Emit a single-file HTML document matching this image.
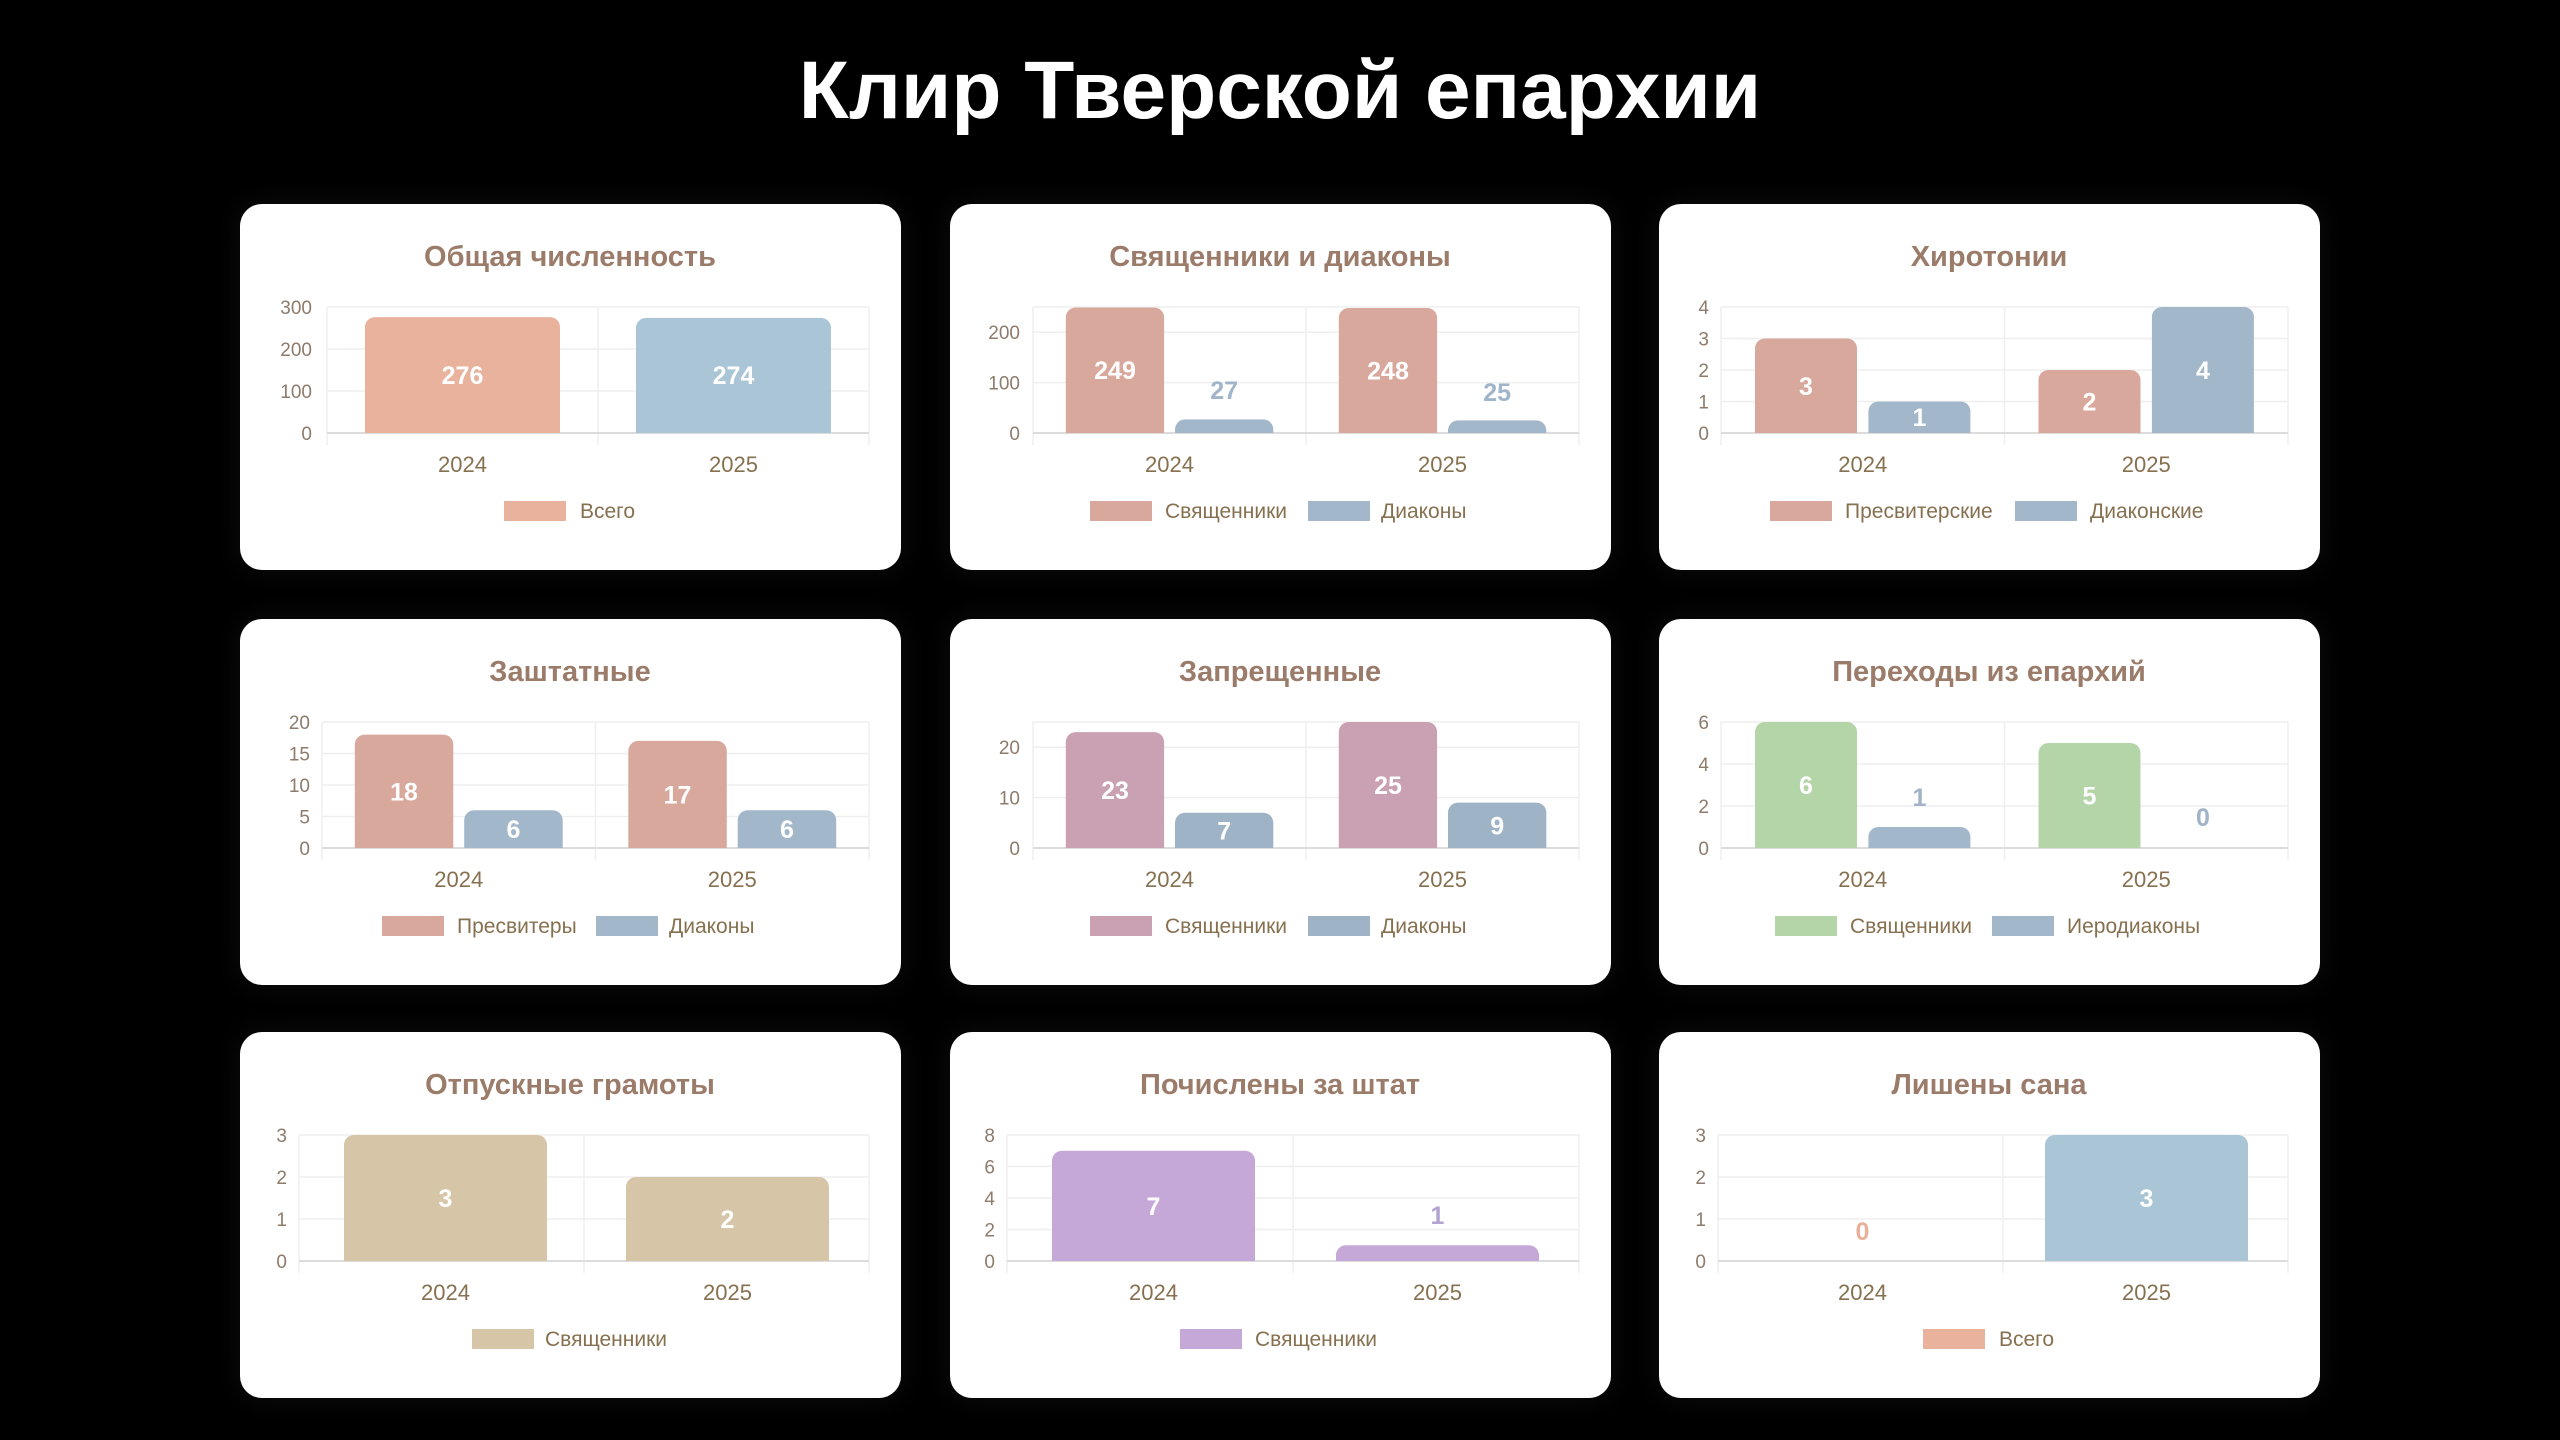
<!DOCTYPE html>
<html><head><meta charset="utf-8"><style>
html,body{margin:0;padding:0;background:#000;width:2560px;height:1440px;overflow:hidden;font-family:"Liberation Sans","DejaVu Sans",sans-serif}
h1{position:absolute;left:0;top:41px;width:2560px;text-align:center;margin:0;color:#fff;font-size:82px;font-weight:bold;line-height:100px}
.card{position:absolute;width:661px;height:366px;background:#fff;border-radius:22px;box-shadow:0 0 30px rgba(255,255,255,0.06)}
.card svg{position:absolute;left:0;top:0}
svg text{font-family:"Liberation Sans","DejaVu Sans",sans-serif}
.t{font-size:29px;font-weight:bold;fill:#9b7b69}
.y{font-size:19px;fill:#8d7b6c}
.x{font-size:22px;fill:#86704f}
.l{font-size:21px;fill:#86704f}
.v{font-size:25px;font-weight:bold}
.g{stroke:#efefef;stroke-width:1.5}
.a{stroke:#dcdcdc;stroke-width:2}
</style></head><body>
<h1>Клир Тверской епархии</h1>
<svg width="0" height="0" style="position:absolute"><defs><clipPath id="c"><rect x="0" y="0" width="661" height="229"/></clipPath></defs></svg>

<div class="card" style="left:240px;top:204px"><svg width="661" height="366">
<text class="t" x="330" y="62" text-anchor="middle">Общая численность</text>
<line class="g" x1="87" y1="103" x2="629" y2="103"/><line class="g" x1="87" y1="145" x2="629" y2="145"/><line class="g" x1="87" y1="187" x2="629" y2="187"/>
<line class="g" x1="87" y1="103" x2="87" y2="241"/><line class="g" x1="358" y1="103" x2="358" y2="241"/><line class="g" x1="629" y1="103" x2="629" y2="241"/>
<line class="a" x1="87" y1="229" x2="629" y2="229"/>
<g class="y" text-anchor="end"><text x="72" y="110">300</text><text x="72" y="152">200</text><text x="72" y="194">100</text><text x="72" y="236">0</text></g>
<g clip-path="url(#c)"><rect x="125" y="113.1" width="195" height="130" rx="10" fill="#e8b29d"/><rect x="396" y="113.9" width="195" height="130" rx="10" fill="#a9c5d6"/></g>
<g class="v" fill="#fff" text-anchor="middle"><text x="222.5" y="180">276</text><text x="493.5" y="180">274</text></g>
<g class="x" text-anchor="middle"><text x="222.5" y="268">2024</text><text x="493.5" y="268">2025</text></g>
<rect x="264" y="297" width="62" height="20" fill="#e8b29d"/><text class="l" x="340" y="314">Всего</text>
</svg></div>

<div class="card" style="left:950px;top:204px"><svg width="661" height="366">
<text class="t" x="330" y="62" text-anchor="middle">Священники и диаконы</text>
<line class="g" x1="83" y1="103" x2="629" y2="103"/><line class="g" x1="83" y1="128.2" x2="629" y2="128.2"/><line class="g" x1="83" y1="178.6" x2="629" y2="178.6"/>
<line class="g" x1="83" y1="103" x2="83" y2="241"/><line class="g" x1="356" y1="103" x2="356" y2="241"/><line class="g" x1="629" y1="103" x2="629" y2="241"/>
<line class="a" x1="83" y1="229" x2="629" y2="229"/>
<g class="y" text-anchor="end"><text x="70" y="135">200</text><text x="70" y="185.5">100</text><text x="70" y="236">0</text></g>
<g clip-path="url(#c)"><rect x="115.8" y="103.5" width="98.3" height="140" rx="10" fill="#d9a89d"/><rect x="225" y="215.4" width="98.3" height="30" rx="10" fill="#a3b7cb"/><rect x="388.8" y="104" width="98.3" height="140" rx="10" fill="#d9a89d"/><rect x="498" y="216.4" width="98.3" height="30" rx="10" fill="#a3b7cb"/></g>
<g class="v" text-anchor="middle"><text x="165" y="175" fill="#fff">249</text><text x="274.2" y="195" fill="#a0b5ca">27</text><text x="438" y="175.5" fill="#fff">248</text><text x="547.2" y="197" fill="#a0b5ca">25</text></g>
<g class="x" text-anchor="middle"><text x="219.5" y="268">2024</text><text x="492.5" y="268">2025</text></g>
<rect x="140" y="297" width="62" height="20" fill="#d9a89d"/><text class="l" x="215" y="314">Священники</text>
<rect x="358" y="297" width="62" height="20" fill="#a3b7cb"/><text class="l" x="431" y="314">Диаконы</text>
</svg></div>

<div class="card" style="left:1659px;top:204px"><svg width="661" height="366">
<text class="t" x="330" y="62" text-anchor="middle">Хиротонии</text>
<line class="g" x1="62" y1="103" x2="629" y2="103"/><line class="g" x1="62" y1="134.5" x2="629" y2="134.5"/><line class="g" x1="62" y1="166" x2="629" y2="166"/><line class="g" x1="62" y1="197.5" x2="629" y2="197.5"/>
<line class="g" x1="62" y1="103" x2="62" y2="241"/><line class="g" x1="345.5" y1="103" x2="345.5" y2="241"/><line class="g" x1="629" y1="103" x2="629" y2="241"/>
<line class="a" x1="62" y1="229" x2="629" y2="229"/>
<g class="y" text-anchor="end"><text x="50" y="110">4</text><text x="50" y="141.5">3</text><text x="50" y="173">2</text><text x="50" y="204.5">1</text><text x="50" y="236">0</text></g>
<g clip-path="url(#c)"><rect x="96" y="134.5" width="102" height="110" rx="10" fill="#d9a89d"/><rect x="209.4" y="197.5" width="102" height="50" rx="10" fill="#a3b7cb"/><rect x="379.5" y="166" width="102" height="80" rx="10" fill="#d9a89d"/><rect x="492.9" y="103" width="102" height="140" rx="10" fill="#a3b7cb"/></g>
<g class="v" fill="#fff" text-anchor="middle"><text x="147" y="191">3</text><text x="260.4" y="222">1</text><text x="430.5" y="206.5">2</text><text x="543.9" y="175">4</text></g>
<g class="x" text-anchor="middle"><text x="203.75" y="268">2024</text><text x="487.25" y="268">2025</text></g>
<rect x="111" y="297" width="62" height="20" fill="#d9a89d"/><text class="l" x="186" y="314">Пресвитерские</text>
<rect x="356" y="297" width="62" height="20" fill="#a3b7cb"/><text class="l" x="431" y="314">Диаконские</text>
</svg></div>

<div class="card" style="left:240px;top:619px"><svg width="661" height="366">
<text class="t" x="330" y="62" text-anchor="middle">Заштатные</text>
<line class="g" x1="82" y1="103" x2="629" y2="103"/><line class="g" x1="82" y1="134.5" x2="629" y2="134.5"/><line class="g" x1="82" y1="166" x2="629" y2="166"/><line class="g" x1="82" y1="197.5" x2="629" y2="197.5"/>
<line class="g" x1="82" y1="103" x2="82" y2="241"/><line class="g" x1="355.5" y1="103" x2="355.5" y2="241"/><line class="g" x1="629" y1="103" x2="629" y2="241"/>
<line class="a" x1="82" y1="229" x2="629" y2="229"/>
<g class="y" text-anchor="end"><text x="70" y="110">20</text><text x="70" y="141.5">15</text><text x="70" y="173">10</text><text x="70" y="204.5">5</text><text x="70" y="236">0</text></g>
<g clip-path="url(#c)"><rect x="114.8" y="115.6" width="98.5" height="130" rx="10" fill="#d9a89d"/><rect x="224.2" y="191.2" width="98.5" height="60" rx="10" fill="#a3b7cb"/><rect x="388.3" y="121.9" width="98.5" height="130" rx="10" fill="#d9a89d"/><rect x="497.7" y="191.2" width="98.5" height="60" rx="10" fill="#a3b7cb"/></g>
<g class="v" fill="#fff" text-anchor="middle"><text x="164" y="181.3">18</text><text x="273.5" y="219">6</text><text x="437.5" y="184.5">17</text><text x="547" y="219">6</text></g>
<g class="x" text-anchor="middle"><text x="218.75" y="268">2024</text><text x="492.25" y="268">2025</text></g>
<rect x="142" y="297" width="62" height="20" fill="#d9a89d"/><text class="l" x="217" y="314">Пресвитеры</text>
<rect x="356" y="297" width="62" height="20" fill="#a3b7cb"/><text class="l" x="429" y="314">Диаконы</text>
</svg></div>

<div class="card" style="left:950px;top:619px"><svg width="661" height="366">
<text class="t" x="330" y="62" text-anchor="middle">Запрещенные</text>
<line class="g" x1="83" y1="103" x2="629" y2="103"/><line class="g" x1="83" y1="128.2" x2="629" y2="128.2"/><line class="g" x1="83" y1="178.6" x2="629" y2="178.6"/>
<line class="g" x1="83" y1="103" x2="83" y2="241"/><line class="g" x1="356" y1="103" x2="356" y2="241"/><line class="g" x1="629" y1="103" x2="629" y2="241"/>
<line class="a" x1="83" y1="229" x2="629" y2="229"/>
<g class="y" text-anchor="end"><text x="70" y="135">20</text><text x="70" y="185.5">10</text><text x="70" y="236">0</text></g>
<g clip-path="url(#c)"><rect x="115.8" y="113.1" width="98.3" height="130" rx="10" fill="#c9a1b2"/><rect x="225" y="193.7" width="98.3" height="60" rx="10" fill="#9fb3c6"/><rect x="388.8" y="103" width="98.3" height="140" rx="10" fill="#c9a1b2"/><rect x="498" y="183.6" width="98.3" height="60" rx="10" fill="#9fb3c6"/></g>
<g class="v" fill="#fff" text-anchor="middle"><text x="165" y="180">23</text><text x="274.2" y="220.4">7</text><text x="438" y="175">25</text><text x="547.2" y="215.3">9</text></g>
<g class="x" text-anchor="middle"><text x="219.5" y="268">2024</text><text x="492.5" y="268">2025</text></g>
<rect x="140" y="297" width="62" height="20" fill="#c9a1b2"/><text class="l" x="215" y="314">Священники</text>
<rect x="358" y="297" width="62" height="20" fill="#9fb3c6"/><text class="l" x="431" y="314">Диаконы</text>
</svg></div>

<div class="card" style="left:1659px;top:619px"><svg width="661" height="366">
<text class="t" x="330" y="62" text-anchor="middle">Переходы из епархий</text>
<line class="g" x1="62" y1="103" x2="629" y2="103"/><line class="g" x1="62" y1="145" x2="629" y2="145"/><line class="g" x1="62" y1="187" x2="629" y2="187"/>
<line class="g" x1="62" y1="103" x2="62" y2="241"/><line class="g" x1="345.5" y1="103" x2="345.5" y2="241"/><line class="g" x1="629" y1="103" x2="629" y2="241"/>
<line class="a" x1="62" y1="229" x2="629" y2="229"/>
<g class="y" text-anchor="end"><text x="50" y="110">6</text><text x="50" y="152">4</text><text x="50" y="194">2</text><text x="50" y="236">0</text></g>
<g clip-path="url(#c)"><rect x="96" y="103" width="102" height="140" rx="10" fill="#b4d5a8"/><rect x="209.4" y="208" width="102" height="40" rx="10" fill="#a3b7cb"/><rect x="379.5" y="124" width="102" height="120" rx="10" fill="#b4d5a8"/></g>
<g class="v" text-anchor="middle"><text x="147" y="175" fill="#fff">6</text><text x="260.4" y="187" fill="#a0b3c8">1</text><text x="430.5" y="185.5" fill="#fff">5</text><text x="543.9" y="207" fill="#a0b3c8">0</text></g>
<g class="x" text-anchor="middle"><text x="203.75" y="268">2024</text><text x="487.25" y="268">2025</text></g>
<rect x="116" y="297" width="62" height="20" fill="#b4d5a8"/><text class="l" x="191" y="314">Священники</text>
<rect x="333" y="297" width="62" height="20" fill="#a3b7cb"/><text class="l" x="408" y="314">Иеродиаконы</text>
</svg></div>

<div class="card" style="left:240px;top:1032px"><svg width="661" height="366">
<text class="t" x="330" y="62" text-anchor="middle">Отпускные грамоты</text>
<line class="g" x1="59" y1="103" x2="629" y2="103"/><line class="g" x1="59" y1="145" x2="629" y2="145"/><line class="g" x1="59" y1="187" x2="629" y2="187"/>
<line class="g" x1="59" y1="103" x2="59" y2="241"/><line class="g" x1="344" y1="103" x2="344" y2="241"/><line class="g" x1="629" y1="103" x2="629" y2="241"/>
<line class="a" x1="59" y1="229" x2="629" y2="229"/>
<g class="y" text-anchor="end"><text x="47" y="110">3</text><text x="47" y="152">2</text><text x="47" y="194">1</text><text x="47" y="236">0</text></g>
<g clip-path="url(#c)"><rect x="104" y="103" width="203" height="140" rx="10" fill="#d6c5a6"/><rect x="386" y="145" width="203" height="100" rx="10" fill="#d6c5a6"/></g>
<g class="v" fill="#fff" text-anchor="middle"><text x="205.5" y="175">3</text><text x="487.5" y="196">2</text></g>
<g class="x" text-anchor="middle"><text x="205.5" y="268">2024</text><text x="487.5" y="268">2025</text></g>
<rect x="232" y="297" width="62" height="20" fill="#d6c5a6"/><text class="l" x="305" y="314">Священники</text>
</svg></div>

<div class="card" style="left:950px;top:1032px"><svg width="661" height="366">
<text class="t" x="330" y="62" text-anchor="middle">Почислены за штат</text>
<line class="g" x1="57" y1="103" x2="629" y2="103"/><line class="g" x1="57" y1="134.5" x2="629" y2="134.5"/><line class="g" x1="57" y1="166" x2="629" y2="166"/><line class="g" x1="57" y1="197.5" x2="629" y2="197.5"/>
<line class="g" x1="57" y1="103" x2="57" y2="241"/><line class="g" x1="343" y1="103" x2="343" y2="241"/><line class="g" x1="629" y1="103" x2="629" y2="241"/>
<line class="a" x1="57" y1="229" x2="629" y2="229"/>
<g class="y" text-anchor="end"><text x="45" y="110">8</text><text x="45" y="141.5">6</text><text x="45" y="173">4</text><text x="45" y="204.5">2</text><text x="45" y="236">0</text></g>
<g clip-path="url(#c)"><rect x="102" y="118.75" width="203" height="130" rx="10" fill="#c5a8d8"/><rect x="386" y="213.25" width="203" height="40" rx="10" fill="#c5a8d8"/></g>
<g class="v" text-anchor="middle"><text x="203.5" y="183" fill="#fff">7</text><text x="487.5" y="192" fill="#b3a3d3">1</text></g>
<g class="x" text-anchor="middle"><text x="203.5" y="268">2024</text><text x="487.5" y="268">2025</text></g>
<rect x="230" y="297" width="62" height="20" fill="#c5a8d8"/><text class="l" x="305" y="314">Священники</text>
</svg></div>

<div class="card" style="left:1659px;top:1032px"><svg width="661" height="366">
<text class="t" x="330" y="62" text-anchor="middle">Лишены сана</text>
<line class="g" x1="59" y1="103" x2="629" y2="103"/><line class="g" x1="59" y1="145" x2="629" y2="145"/><line class="g" x1="59" y1="187" x2="629" y2="187"/>
<line class="g" x1="59" y1="103" x2="59" y2="241"/><line class="g" x1="344" y1="103" x2="344" y2="241"/><line class="g" x1="629" y1="103" x2="629" y2="241"/>
<line class="a" x1="59" y1="229" x2="629" y2="229"/>
<g class="y" text-anchor="end"><text x="47" y="110">3</text><text x="47" y="152">2</text><text x="47" y="194">1</text><text x="47" y="236">0</text></g>
<g clip-path="url(#c)"><rect x="386" y="103" width="203" height="140" rx="10" fill="#a9c5d6"/></g>
<g class="v" text-anchor="middle"><text x="203.5" y="208" fill="#e8b09a">0</text><text x="487.5" y="175" fill="#fff">3</text></g>
<g class="x" text-anchor="middle"><text x="203.5" y="268">2024</text><text x="487.5" y="268">2025</text></g>
<rect x="264" y="297" width="62" height="20" fill="#e8b29d"/><text class="l" x="340" y="314">Всего</text>
</svg></div>
</body></html>
